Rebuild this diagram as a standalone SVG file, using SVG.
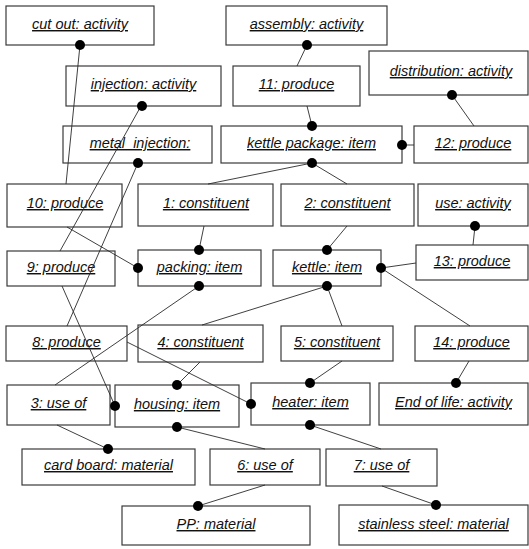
<svg xmlns="http://www.w3.org/2000/svg" width="529" height="549" viewBox="0 0 529 549">
<style>
.b{fill:#fff;stroke:#3a3a3a;stroke-width:1.2}
.t{font-family:"Liberation Sans",Arial,sans-serif;font-style:italic;font-size:14.5px;text-decoration:underline;fill:#111;text-anchor:middle}
.c line{stroke:#2a2a2a;stroke-width:0.9}
.c circle{fill:#000}
</style>
<rect width="529" height="549" fill="#fff"/>
<g id="cutout"><rect class="b" x="6" y="6" width="148" height="39"/><text class="t" x="80" y="29">cut out: activity</text></g>
<g id="assembly"><rect class="b" x="226" y="6" width="161" height="39"/><text class="t" x="306.5" y="29">assembly: activity</text></g>
<g id="injection"><rect class="b" x="66" y="66" width="155" height="40"/><text class="t" x="143.5" y="89">injection: activity</text></g>
<g id="p11"><rect class="b" x="233" y="66" width="127" height="40"/><text class="t" x="296.5" y="89">11: produce</text></g>
<g id="distribution"><rect class="b" x="369" y="51" width="159" height="44"/><text class="t" x="451" y="76">distribution: activity</text></g>
<g id="metalinjection"><rect class="b" x="63" y="126" width="149" height="37"/><text class="t" x="140" y="148">metal_injection:</text></g>
<g id="kettlepackage"><rect class="b" x="221" y="126" width="181" height="37"/><text class="t" x="311.5" y="148">kettle package: item</text></g>
<g id="p12"><rect class="b" x="414" y="126" width="114" height="37"/><text class="t" x="473" y="148">12: produce</text></g>
<g id="p10"><rect class="b" x="7" y="184" width="115" height="43"/><text class="t" x="65" y="208">10: produce</text></g>
<g id="c1"><rect class="b" x="138" y="184" width="135" height="42"/><text class="t" x="206" y="208">1: constituent</text></g>
<g id="c2"><rect class="b" x="281" y="184" width="133" height="42"/><text class="t" x="347.5" y="208">2: constituent</text></g>
<g id="use"><rect class="b" x="418" y="184" width="110" height="42"/><text class="t" x="473" y="208">use: activity</text></g>
<g id="p9"><rect class="b" x="7" y="251" width="108" height="35"/><text class="t" x="61" y="272">9: produce</text></g>
<g id="packing"><rect class="b" x="138" y="250" width="123" height="36"/><text class="t" x="199.5" y="272">packing: item</text></g>
<g id="kettle"><rect class="b" x="273" y="250" width="108" height="36"/><text class="t" x="327" y="272">kettle: item</text></g>
<g id="p13"><rect class="b" x="416" y="245" width="112" height="35"/><text class="t" x="472" y="266">13: produce</text></g>
<g id="p8"><rect class="b" x="6" y="326" width="121" height="35"/><text class="t" x="66.5" y="347">8: produce</text></g>
<g id="c4"><rect class="b" x="138" y="325" width="125" height="37"/><text class="t" x="200.5" y="347">4: constituent</text></g>
<g id="c5"><rect class="b" x="281" y="326" width="112" height="35"/><text class="t" x="337" y="347">5: constituent</text></g>
<g id="p14"><rect class="b" x="415" y="326" width="113" height="35"/><text class="t" x="471.5" y="347">14: produce</text></g>
<g id="u3"><rect class="b" x="7" y="385" width="103" height="40"/><text class="t" x="58.5" y="408">3: use of</text></g>
<g id="housing"><rect class="b" x="115" y="385" width="124" height="42"/><text class="t" x="177" y="409">housing: item</text></g>
<g id="heater"><rect class="b" x="251" y="383" width="119" height="42"/><text class="t" x="310.5" y="407">heater: item</text></g>
<g id="endoflife"><rect class="b" x="379" y="383" width="149" height="42"/><text class="t" x="453.5" y="407">End of life: activity</text></g>
<g id="cardboard"><rect class="b" x="22" y="449" width="173" height="36"/><text class="t" x="108.5" y="470">card board: material</text></g>
<g id="u6"><rect class="b" x="210" y="449" width="110" height="36"/><text class="t" x="265" y="470">6: use of</text></g>
<g id="u7"><rect class="b" x="326" y="449" width="111" height="37"/><text class="t" x="381.5" y="470">7: use of</text></g>
<g id="pp"><rect class="b" x="122" y="506" width="188" height="39"/><text class="t" x="216" y="529">PP: material</text></g>
<g id="stainless"><rect class="b" x="339" y="505" width="189" height="40"/><text class="t" x="433.5" y="529">stainless steel: material</text></g>
<g id="connectors" class="c">
<line x1="80" y1="45" x2="66" y2="184"/>
<line x1="307" y1="45" x2="297" y2="66"/>
<line x1="141" y1="106" x2="60" y2="251"/>
<line x1="307" y1="106" x2="312" y2="126"/>
<line x1="452" y1="95" x2="474" y2="126"/>
<line x1="402" y1="145" x2="414" y2="145"/>
<line x1="138" y1="163" x2="67" y2="326"/>
<line x1="312" y1="163" x2="208" y2="184"/>
<line x1="312" y1="163" x2="347" y2="184"/>
<line x1="67" y1="227" x2="138" y2="268"/>
<line x1="204" y1="226" x2="199" y2="250"/>
<line x1="347" y1="226" x2="327" y2="250"/>
<line x1="475" y1="226" x2="473" y2="245"/>
<line x1="381" y1="268" x2="416" y2="263"/>
<line x1="381" y1="268" x2="470" y2="326"/>
<line x1="62" y1="286" x2="115" y2="406"/>
<line x1="199" y1="286" x2="55" y2="385"/>
<line x1="327" y1="286" x2="202" y2="325"/>
<line x1="327" y1="286" x2="342" y2="326"/>
<line x1="127" y1="342" x2="251" y2="404"/>
<line x1="200" y1="362" x2="177" y2="385"/>
<line x1="342" y1="361" x2="310" y2="383"/>
<line x1="469" y1="361" x2="456" y2="383"/>
<line x1="57" y1="425" x2="108" y2="449"/>
<line x1="177" y1="427" x2="265" y2="449"/>
<line x1="310" y1="425" x2="381" y2="449"/>
<line x1="265" y1="485" x2="198" y2="506"/>
<line x1="382" y1="486" x2="436" y2="505"/>
<circle cx="80" cy="45" r="5"/>
<circle cx="307" cy="45" r="5"/>
<circle cx="142" cy="106" r="5"/>
<circle cx="452" cy="95" r="5"/>
<circle cx="138" cy="163" r="5"/>
<circle cx="312" cy="126" r="5"/>
<circle cx="312" cy="163" r="5"/>
<circle cx="402" cy="145" r="5"/>
<circle cx="199" cy="250" r="5"/>
<circle cx="138" cy="268" r="5"/>
<circle cx="199" cy="286" r="5"/>
<circle cx="327" cy="250" r="5"/>
<circle cx="381" cy="268" r="5"/>
<circle cx="327" cy="286" r="5"/>
<circle cx="475" cy="226" r="5"/>
<circle cx="177" cy="385" r="5"/>
<circle cx="115" cy="406" r="5"/>
<circle cx="177" cy="427" r="5"/>
<circle cx="310" cy="383" r="5"/>
<circle cx="251" cy="404" r="5"/>
<circle cx="310" cy="425" r="5"/>
<circle cx="456" cy="383" r="5"/>
<circle cx="108" cy="449" r="5"/>
<circle cx="198" cy="506" r="5"/>
<circle cx="436" cy="505" r="5"/>
</g>
</svg>
